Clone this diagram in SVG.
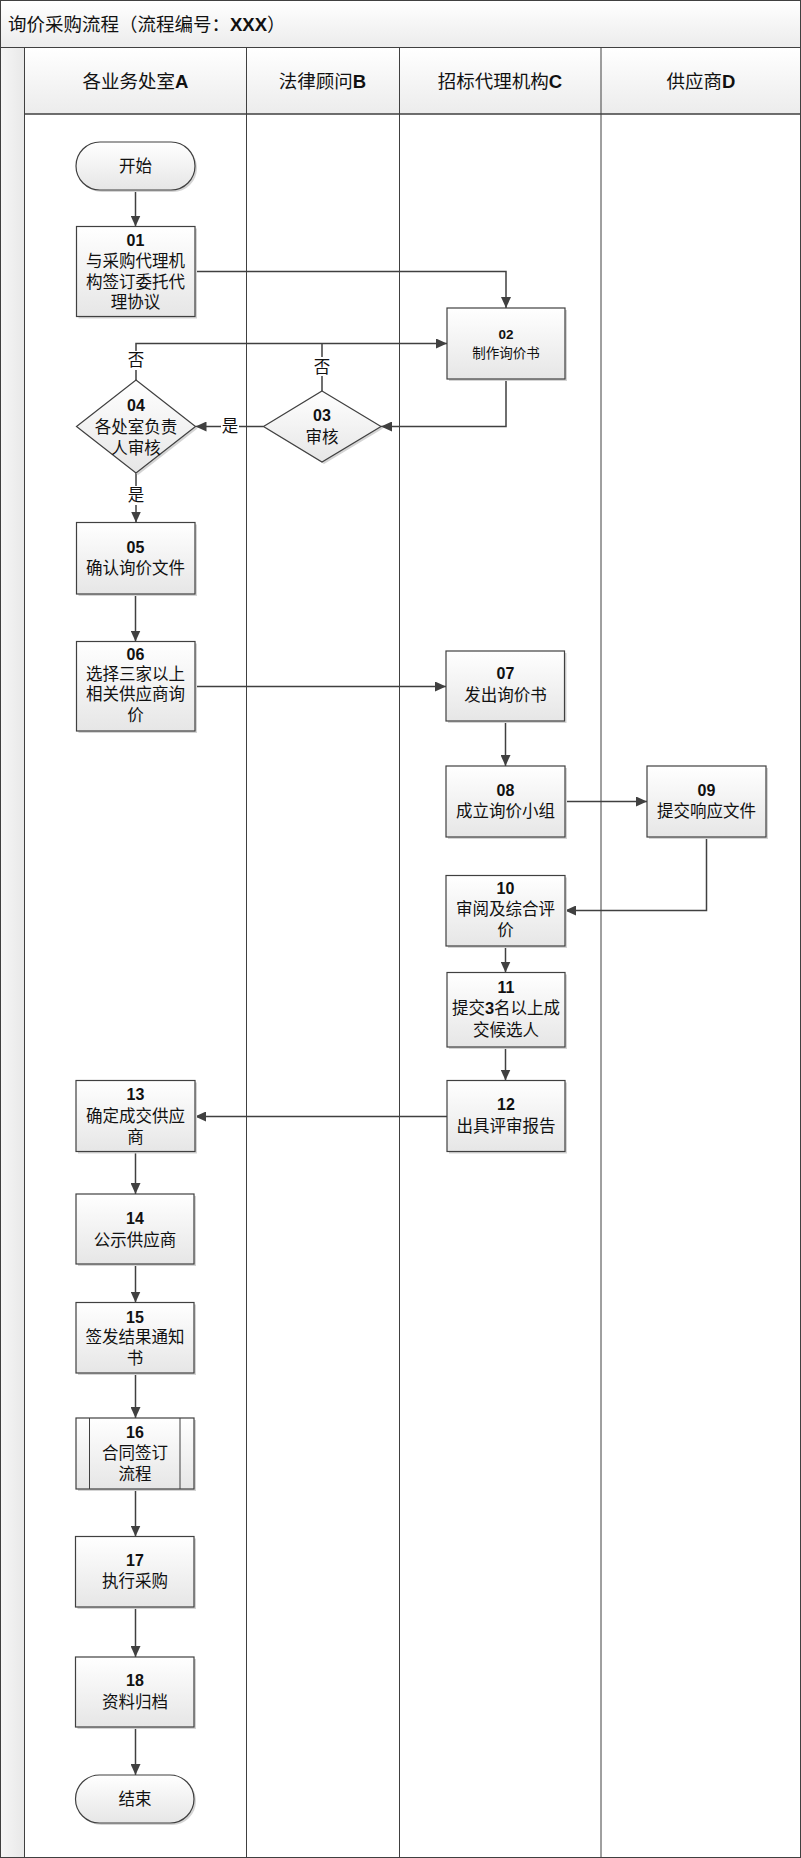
<svg xmlns="http://www.w3.org/2000/svg" width="801" height="1858" viewBox="0 0 801 1858">
<style>
.t{font-family:"Liberation Sans","Noto Sans CJK SC",sans-serif;fill:#111;text-anchor:middle;dominant-baseline:central}
.n{font-size:16.5px}
.b{font-weight:bold;font-size:16px}
.s{font-size:13.5px}
.sb{font-weight:bold;font-size:13.5px}
.hd{font-size:18.5px}
.box{fill:url(#g);stroke:#404040;stroke-width:1.2}
.sh{fill:#d4d4d4}
.ln{fill:none;stroke:#404040;stroke-width:1.5}
.lane{stroke:#404040;stroke-width:1;fill:none}
</style>
<defs>
<linearGradient id="g" x1="0" y1="0" x2="0" y2="1"><stop offset="0" stop-color="#ffffff"/><stop offset="1" stop-color="#e6e6e6"/></linearGradient>
<linearGradient id="hg" x1="0" y1="0" x2="0" y2="1"><stop offset="0" stop-color="#ffffff"/><stop offset="1" stop-color="#ececec"/></linearGradient>
<linearGradient id="sg" x1="0" y1="0" x2="1" y2="0"><stop offset="0" stop-color="#f6f6f6"/><stop offset="1" stop-color="#e8e8e8"/></linearGradient>
<marker id="a" markerWidth="12" markerHeight="10" refX="11" refY="5" orient="auto" markerUnits="userSpaceOnUse"><path d="M0,0 L11,5 L0,10 z" fill="#404040"/></marker>
</defs>
<rect x="0" y="0" width="801" height="1858" fill="#fff"/>
<g id="frame">
<rect x="0.5" y="0.5" width="800" height="47" fill="url(#hg)" stroke="#404040"/>
<text class="t" x="8" y="24" style="text-anchor:start;font-size:18.5px">询价采购流程（流程编号：<tspan font-weight="bold">XXX</tspan>）</text>
<rect x="0.5" y="47.5" width="24" height="1810" fill="url(#sg)" stroke="#404040"/>
<rect x="24.5" y="47.5" width="776" height="66.5" fill="url(#hg)" stroke="#404040"/>
<path class="lane" d="M246.5,47.5 V1857.5 M399.5,47.5 V1857.5 M601,47.5 V1857.5 M24.5,114 H800.5"/>
<rect x="0.5" y="0.5" width="800" height="1857" fill="none" stroke="#404040"/>
<text class="t hd" x="135.5" y="81">各业务处室<tspan font-weight="bold">A</tspan></text>
<text class="t hd" x="322.5" y="81">法律顾问<tspan font-weight="bold">B</tspan></text>
<text class="t hd" x="500" y="81">招标代理机构<tspan font-weight="bold">C</tspan></text>
<text class="t hd" x="701" y="81">供应商<tspan font-weight="bold">D</tspan></text>
</g>
<g id="connectors">
<path class="ln" marker-end="url(#a)" d="M135.5,190 V226.5"/>
<path class="ln" marker-end="url(#a)" d="M195,271.5 H506 V308"/>
<path class="ln" marker-end="url(#a)" d="M506,379 V426.5 H381"/>
<path class="ln" marker-end="url(#a)" d="M263.5,426.5 H195.5"/>
<path class="ln" d="M322,391 V343.5"/>
<path class="ln" marker-end="url(#a)" d="M136,380 V343.5 H447"/>
<path class="ln" marker-end="url(#a)" d="M136,473 V522.5"/>
<path class="ln" marker-end="url(#a)" d="M135.5,594 V641.5"/>
<path class="ln" marker-end="url(#a)" d="M195,686.5 H446"/>
<path class="ln" marker-end="url(#a)" d="M505.5,721 V766"/>
<path class="ln" marker-end="url(#a)" d="M565,801.5 H647"/>
<path class="ln" marker-end="url(#a)" d="M706.5,837 V910.5 H565"/>
<path class="ln" marker-end="url(#a)" d="M505.5,946 V972.5"/>
<path class="ln" marker-end="url(#a)" d="M505.5,1047 V1080.5"/>
<path class="ln" marker-end="url(#a)" d="M447,1116.5 H195"/>
<path class="ln" marker-end="url(#a)" d="M135.5,1151.5 V1194"/>
<path class="ln" marker-end="url(#a)" d="M135.5,1264 V1302.5"/>
<path class="ln" marker-end="url(#a)" d="M135.5,1373 V1418"/>
<path class="ln" marker-end="url(#a)" d="M135.5,1489 V1536.5"/>
<path class="ln" marker-end="url(#a)" d="M135.5,1607 V1657"/>
<path class="ln" marker-end="url(#a)" d="M135.5,1727 V1775"/>
<rect x="221" y="417" width="18" height="19" fill="#fff"/>
<text class="t n" x="230" y="426">是</text>
<rect x="313" y="357" width="18" height="19" fill="#fff"/>
<text class="t n" x="322" y="366.5">否</text>
<rect x="127" y="351" width="18" height="19" fill="#fff"/>
<text class="t n" x="136" y="360">否</text>
<rect x="127" y="486" width="18" height="19" fill="#fff"/>
<text class="t n" x="136" y="495">是</text>
</g>
<g id="n-start">
<rect class="sh" x="78" y="144" width="119" height="48" rx="24"/>
<rect class="box" x="76" y="142" width="119" height="48" rx="24"/>
<text class="t n" x="135.5" y="166">开始</text>
</g>
<g id="n01">
<rect class="sh" x="78.5" y="228.5" width="118.5" height="90"/>
<rect class="box" x="76.5" y="226.5" width="118.5" height="90"/>
<text class="t b" x="135.5" y="240">01</text>
<text class="t n" x="135.5" y="261">与采购代理机</text>
<text class="t n" x="135.5" y="281.5">构签订委托代</text>
<text class="t n" x="135.5" y="302">理协议</text>
</g>
<g id="n02">
<rect class="sh" x="449" y="310" width="118" height="71"/>
<rect class="box" x="447" y="308" width="118" height="71"/>
<text class="t sb" x="506" y="334">02</text>
<text class="t s" x="506" y="353.5">制作询价书</text>
</g>
<g id="n03">
<path class="sh" d="M324,393 L383,428.5 L324,464 L265.5,428.5 z"/>
<path class="box" d="M322,391 L381,426.5 L322,462 L263.5,426.5 z"/>
<text class="t b" x="322" y="415">03</text>
<text class="t n" x="322" y="437">审核</text>
</g>
<g id="n04">
<path class="sh" d="M138,382 L197.5,428.5 L138,475 L78.5,428.5 z"/>
<path class="box" d="M136,380 L195.5,426.5 L136,473 L76.5,426.5 z"/>
<text class="t b" x="136" y="405">04</text>
<text class="t n" x="136" y="427">各处室负责</text>
<text class="t n" x="136" y="448">人审核</text>
</g>
<g id="n05">
<rect class="sh" x="78.5" y="524.5" width="118.5" height="71.5"/>
<rect class="box" x="76.5" y="522.5" width="118.5" height="71.5"/>
<text class="t b" x="135.5" y="547">05</text>
<text class="t n" x="135.5" y="568">确认询价文件</text>
</g>
<g id="n06">
<rect class="sh" x="78.5" y="643.5" width="118.5" height="89.5"/>
<rect class="box" x="76.5" y="641.5" width="118.5" height="89.5"/>
<text class="t b" x="135.5" y="654">06</text>
<text class="t n" x="135.5" y="673.5">选择三家以上</text>
<text class="t n" x="135.5" y="694">相关供应商询</text>
<text class="t n" x="135.5" y="715">价</text>
</g>
<g id="n07">
<rect class="sh" x="448" y="653" width="118.5" height="70"/>
<rect class="box" x="446" y="651" width="118.5" height="70"/>
<text class="t b" x="505.5" y="673">07</text>
<text class="t n" x="505.5" y="695">发出询价书</text>
</g>
<g id="n08">
<rect class="sh" x="448" y="768" width="119" height="71"/>
<rect class="box" x="446" y="766" width="119" height="71"/>
<text class="t b" x="505.5" y="790">08</text>
<text class="t n" x="505.5" y="811">成立询价小组</text>
</g>
<g id="n09">
<rect class="sh" x="649" y="768" width="119" height="71"/>
<rect class="box" x="647" y="766" width="119" height="71"/>
<text class="t b" x="706.5" y="790">09</text>
<text class="t n" x="706.5" y="811">提交响应文件</text>
</g>
<g id="n10">
<rect class="sh" x="448" y="877.5" width="119" height="70.5"/>
<rect class="box" x="446" y="875.5" width="119" height="70.5"/>
<text class="t b" x="505.5" y="888">10</text>
<text class="t n" x="505.5" y="909">审阅及综合评</text>
<text class="t n" x="505.5" y="930">价</text>
</g>
<g id="n11">
<rect class="sh" x="449" y="974.5" width="118" height="74.5"/>
<rect class="box" x="447" y="972.5" width="118" height="74.5"/>
<text class="t b" x="506" y="987">11</text>
<text class="t n" x="506" y="1008">提交<tspan font-weight="bold">3</tspan>名以上成</text>
<text class="t n" x="506" y="1030">交候选人</text>
</g>
<g id="n12">
<rect class="sh" x="449" y="1082.5" width="118" height="71"/>
<rect class="box" x="447" y="1080.5" width="118" height="71"/>
<text class="t b" x="506" y="1104">12</text>
<text class="t n" x="506" y="1126">出具评审报告</text>
</g>
<g id="n13">
<rect class="sh" x="78" y="1082.5" width="119" height="71"/>
<rect class="box" x="76" y="1080.5" width="119" height="71"/>
<text class="t b" x="135.5" y="1094">13</text>
<text class="t n" x="135.5" y="1116">确定成交供应</text>
<text class="t n" x="135.5" y="1137">商</text>
</g>
<g id="n14">
<rect class="sh" x="78" y="1196" width="118" height="70"/>
<rect class="box" x="76" y="1194" width="118" height="70"/>
<text class="t b" x="135" y="1218">14</text>
<text class="t n" x="135" y="1240">公示供应商</text>
</g>
<g id="n15">
<rect class="sh" x="78" y="1304.5" width="118" height="70.5"/>
<rect class="box" x="76" y="1302.5" width="118" height="70.5"/>
<text class="t b" x="135" y="1317">15</text>
<text class="t n" x="135" y="1337">签发结果通知</text>
<text class="t n" x="135" y="1357.5">书</text>
</g>
<g id="n16">
<rect class="sh" x="78" y="1420" width="118" height="71"/>
<rect class="box" x="76" y="1418" width="118" height="71"/>
<path class="lane" d="M89.5,1418 V1489 M180,1418 V1489"/>
<text class="t b" x="135" y="1432">16</text>
<text class="t n" x="135" y="1453">合同签订</text>
<text class="t n" x="135" y="1473.5">流程</text>
</g>
<g id="n17">
<rect class="sh" x="77.5" y="1538.5" width="118.5" height="70.5"/>
<rect class="box" x="75.5" y="1536.5" width="118.5" height="70.5"/>
<text class="t b" x="135" y="1560">17</text>
<text class="t n" x="135" y="1581">执行采购</text>
</g>
<g id="n18">
<rect class="sh" x="77.5" y="1659" width="118.5" height="70"/>
<rect class="box" x="75.5" y="1657" width="118.5" height="70"/>
<text class="t b" x="135" y="1680">18</text>
<text class="t n" x="135" y="1702">资料归档</text>
</g>
<g id="n-end">
<rect class="sh" x="77.5" y="1777" width="118.5" height="48" rx="24"/>
<rect class="box" x="75.5" y="1775" width="118.5" height="48" rx="24"/>
<text class="t n" x="135" y="1799">结束</text>
</g>
</svg>
